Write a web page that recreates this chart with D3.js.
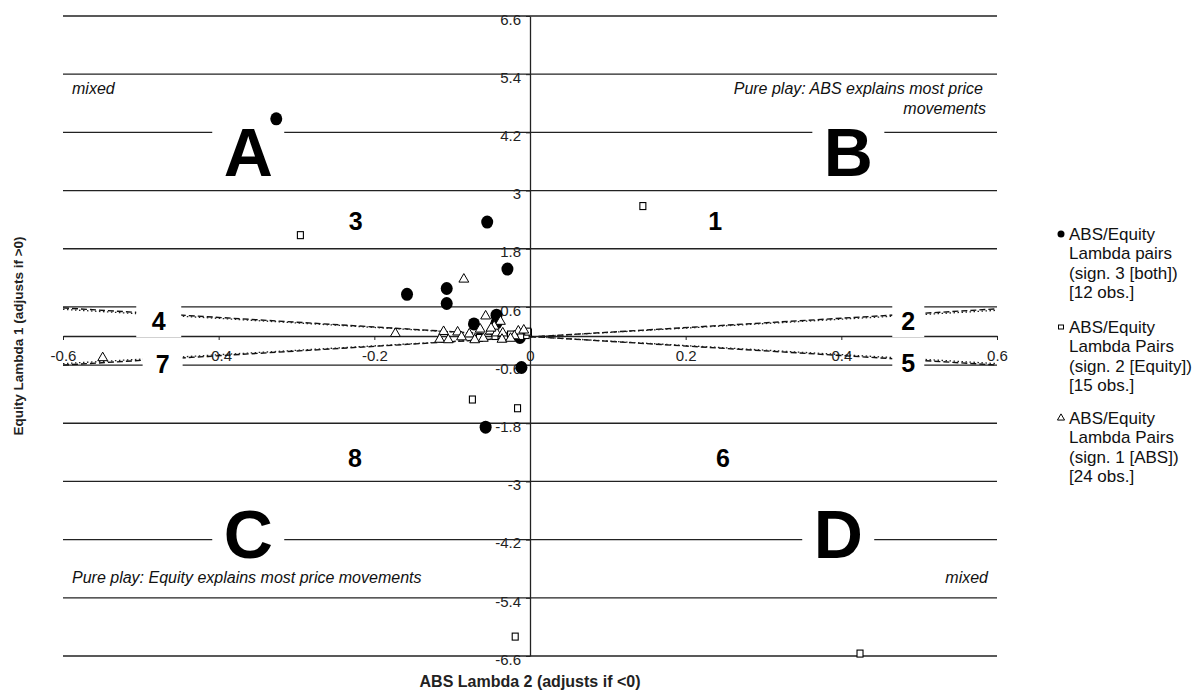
<!DOCTYPE html>
<html>
<head>
<meta charset="utf-8">
<script src="https://cdn.jsdelivr.net/npm/d3@7"></script>
<style>
  body { margin: 0; background: #fff; }
  svg { display: block; font-family: "Liberation Sans", Arial, sans-serif; }
</style>
</head>
<body>
<div id="chart"></div>
<script>
// Lambda pairs: [ABS lambda 2, equity lambda 1]
const bothPairs = [
  [-0.326, 4.48], [-0.055, 2.35], [-0.029, 1.38], [-0.158, 0.86],
  [-0.107, 0.98], [-0.107, 0.67], [-0.043, 0.43], [-0.043, 0.27],
  [-0.072, 0.25], [-0.013, -0.03], [-0.011, -0.65], [-0.057, -1.88]
];
const equityPairs = [
  [-0.295, 2.08], [0.145, 2.68], [-0.074, -1.31], [-0.016, -1.49],
  [-0.002, 0.07], [-0.008, 0.05], [-0.019, -6.2], [0.424, -6.55],
  [-0.03, -0.01], [-0.005, 0.02], [-0.045, 0.0], [-0.012, 0.0],
  [-0.065, -0.04], [-0.025, 0.03], [-0.003, 0.09]
];
const absPairs = [
  [-0.549, -0.45], [-0.173, 0.05], [-0.085, 1.17], [-0.057, 0.41],
  [-0.038, 0.30], [-0.111, 0.09], [-0.093, 0.08], [-0.064, 0.14],
  [-0.051, 0.10], [-0.043, 0.06], [-0.078, 0.04], [-0.035, 0.06],
  [-0.015, 0.10], [-0.116, -0.07], [-0.105, -0.08], [-0.071, -0.08],
  [-0.06, -0.05], [-0.036, -0.07], [-0.046, 0.2], [-0.02, 0.0],
  [-0.025, -0.05], [-0.05, 0.16], [-0.008, 0.12], [-0.088, -0.02]
];

const xTicks = [-0.6, -0.4, -0.2, 0, 0.2, 0.4, 0.6];
const yTicks = [6.6, 5.4, 4.2, 3, 1.8, 0.6, -0.6, -1.8, -3, -4.2, -5.4, -6.6];

// Diagonal guides, each drawn as a dashed and a dotted stroke
const guideDown = [[-0.6, 0.58], [0.6, -0.6]];
const guideDownDots = [[-0.6, 0.55], [0.6, -0.57]];
const guideUp = [[-0.6, -0.6], [0.6, 0.56]];
const guideUpDots = [[-0.6, -0.57], [0.6, 0.53]];

const legendLabels = [
  ["ABS/Equity", "Lambda pairs", "(sign. 3 [both])", "[12 obs.]"],
  ["ABS/Equity", "Lambda Pairs", "(sign. 2 [Equity])", "[15 obs.]"],
  ["ABS/Equity", "Lambda Pairs", "(sign. 1 [ABS])", "[24 obs.]"]
];

// Annotations (data units)
const quadrantLetters = [
  { text: "A", x: -0.362, y: 3.30 },
  { text: "B", x: 0.409, y: 3.30 },
  { text: "C", x: -0.362, y: -4.58 },
  { text: "D", x: 0.396, y: -4.58 }
];
const regionNumbers = [
  { text: "1", x: 0.238, y: 2.19, w: 30 },
  { text: "2", x: 0.486, y: 0.12, w: 32 },
  { text: "3", x: -0.224, y: 2.19, w: 30 },
  { text: "4", x: -0.477, y: 0.12, w: 45 },
  { text: "5", x: 0.486, y: -0.74, w: 32 },
  { text: "6", x: 0.248, y: -2.70, w: 30 },
  { text: "7", x: -0.472, y: -0.76, w: 40 },
  { text: "8", x: -0.225, y: -2.70, w: 30 }
];

const width = 1200;
const height = 694;
const ink = "#222";

const x = d3.scaleLinear().domain([-0.6, 0.6]).range([63, 997]);
const y = d3.scaleLinear().domain([-6.6, 6.6]).range([656, 16]);
const fmt = d => String(+d.toFixed(1));

const svg = d3.select("#chart")
  .append("svg")
  .attr("width", width)
  .attr("height", height);

// Gridlines
svg.append("g")
  .selectAll("line")
  .data(yTicks)
  .enter()
  .append("line")
  .attr("x1", x(-0.6))
  .attr("x2", x(0.6))
  .attr("y1", d => y(d))
  .attr("y2", d => y(d))
  .attr("stroke", ink)
  .attr("stroke-width", 1.3);

// X axis through zero
const gx = svg.append("g")
  .attr("transform", "translate(0," + y(0) + ")")
  .call(d3.axisBottom(x).tickValues(xTicks).tickSize(4).tickSizeOuter(0).tickPadding(10).tickFormat(fmt));
gx.select(".domain").attr("stroke", ink).attr("stroke-width", 1.5);
gx.selectAll(".tick line").attr("stroke", ink);
gx.selectAll("text")
  .attr("fill", ink)
  .style("font-size", "15px")
  .style("font-family", "'Liberation Sans', Arial, sans-serif");

// Y axis through zero
const gy = svg.append("g")
  .attr("transform", "translate(" + x(0) + ",0)")
  .call(d3.axisLeft(y).tickValues(yTicks).tickSize(4).tickSizeOuter(0).tickPadding(5).tickFormat(fmt));
gy.select(".domain").attr("stroke", ink).attr("stroke-width", 1.3);
gy.selectAll(".tick line").attr("stroke", ink);
gy.selectAll("text")
  .attr("dy", "0.55em")
  .attr("fill", ink)
  .style("font-size", "15px")
  .style("font-family", "'Liberation Sans', Arial, sans-serif");

// Diagonal guides
const line = d3.line().x(d => x(d[0])).y(d => y(d[1]));
[guideDown, guideUp].forEach(g => {
  svg.append("path")
    .attr("d", line(g))
    .attr("fill", "none")
    .attr("stroke", "#111")
    .attr("stroke-width", 1.4)
    .attr("stroke-dasharray", "6,3");
});
[guideDownDots, guideUpDots].forEach(g => {
  svg.append("path")
    .attr("d", line(g))
    .attr("fill", "none")
    .attr("stroke", "#222")
    .attr("stroke-width", 1.3)
    .attr("stroke-dasharray", "1.5,2.5");
});

// White label boxes and labels
const letters = svg.append("g");
letters.selectAll("rect")
  .data(quadrantLetters)
  .enter()
  .append("rect")
  .attr("x", d => x(d.x) - 36)
  .attr("y", d => y(d.y) - 50)
  .attr("width", 72)
  .attr("height", 54)
  .attr("fill", "#fff");
letters.selectAll("text")
  .data(quadrantLetters)
  .enter()
  .append("text")
  .attr("x", d => x(d.x))
  .attr("y", d => y(d.y))
  .attr("text-anchor", "middle")
  .attr("font-size", "68px")
  .attr("font-weight", "bold")
  .attr("fill", "#000")
  .text(d => d.text);

const numbers = svg.append("g");
numbers.selectAll("rect")
  .data(regionNumbers)
  .enter()
  .append("rect")
  .attr("x", d => x(d.x) - d.w / 2)
  .attr("y", d => y(d.y) - 26)
  .attr("width", d => d.w)
  .attr("height", 33)
  .attr("fill", "#fff");
numbers.selectAll("text")
  .data(regionNumbers)
  .enter()
  .append("text")
  .attr("x", d => x(d.x))
  .attr("y", d => y(d.y))
  .attr("text-anchor", "middle")
  .attr("font-size", "25px")
  .attr("font-weight", "bold")
  .attr("fill", "#000")
  .text(d => d.text);

// Italic notes
const notes = svg.append("g")
  .attr("font-size", "16px")
  .attr("font-style", "italic")
  .attr("fill", "#111");
notes.append("text").attr("x", 72).attr("y", 94).text("mixed");
notes.append("text").attr("x", 983).attr("y", 94).attr("text-anchor", "end")
  .text("Pure play: ABS explains most price");
notes.append("text").attr("x", 986).attr("y", 114).attr("text-anchor", "end")
  .text("movements");
notes.append("text").attr("x", 72).attr("y", 583)
  .text("Pure play: Equity explains most price movements");
notes.append("text").attr("x", 988).attr("y", 583).attr("text-anchor", "end")
  .text("mixed");

// Points
svg.append("g")
  .selectAll("ellipse")
  .data(bothPairs)
  .enter()
  .append("ellipse")
  .attr("cx", d => x(d[0]))
  .attr("cy", d => y(d[1]))
  .attr("rx", 6)
  .attr("ry", 6.5)
  .attr("fill", "#000");

svg.append("g")
  .selectAll("rect")
  .data(equityPairs)
  .enter()
  .append("rect")
  .attr("x", d => x(d[0]) - 3)
  .attr("y", d => y(d[1]) - 3.5)
  .attr("width", 6)
  .attr("height", 7)
  .attr("fill", "#fff")
  .attr("stroke", "#000")
  .attr("stroke-width", 1.1);

const tri = d3.symbol().type(d3.symbolTriangle).size(42);
svg.append("g")
  .selectAll("path")
  .data(absPairs)
  .enter()
  .append("path")
  .attr("d", tri)
  .attr("transform", d => "translate(" + x(d[0]) + "," + y(d[1]) + ")")
  .attr("fill", "#fff")
  .attr("stroke", "#000")
  .attr("stroke-width", 1);

// Axis titles
svg.append("text")
  .attr("x", x(0))
  .attr("y", 687)
  .attr("text-anchor", "middle")
  .attr("font-size", "16px")
  .attr("font-weight", "bold")
  .attr("fill", ink)
  .text("ABS Lambda 2 (adjusts if <0)");

svg.append("text")
  .attr("transform", "translate(23," + y(0) + ") rotate(-90)")
  .attr("text-anchor", "middle")
  .attr("font-size", "13.5px")
  .attr("font-weight", "bold")
  .attr("fill", ink)
  .text("Equity Lambda 1 (adjusts if >0)");

// Legend
const entryTops = [240, 333, 424];
const legend = svg.append("g").attr("font-size", "17px").attr("fill", "#111");
legendLabels.forEach((lines, i) => {
  const t = legend.append("text").attr("x", 1069).attr("y", entryTops[i]);
  lines.forEach((s, j) => {
    t.append("tspan").attr("x", 1069).attr("y", entryTops[i] + j * 19.3).text(s);
  });
});
legend.append("circle")
  .attr("cx", 1061).attr("cy", entryTops[0] - 6).attr("r", 3.5).attr("fill", "#000");
legend.append("rect")
  .attr("x", 1058.5).attr("y", entryTops[1] - 8).attr("width", 5).attr("height", 4)
  .attr("fill", "#fff").attr("stroke", "#000").attr("stroke-width", 1);
legend.append("path")
  .attr("d", d3.symbol().type(d3.symbolTriangle).size(22))
  .attr("transform", "translate(1061," + (entryTops[2] - 6) + ")")
  .attr("fill", "#fff").attr("stroke", "#000").attr("stroke-width", 1);
</script>
</body>
</html>
